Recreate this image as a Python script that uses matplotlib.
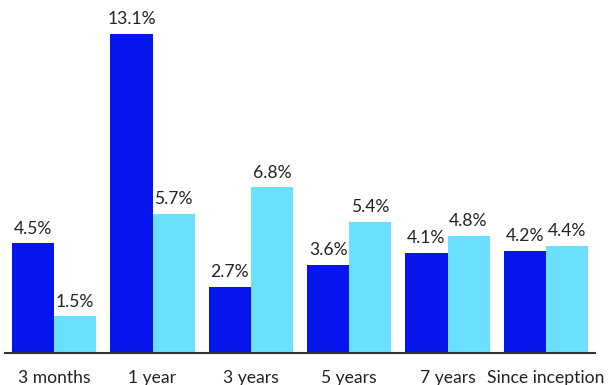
import numpy as np
import matplotlib
matplotlib.use("Agg")
import matplotlib.pyplot as plt

CATEGORIES = ["3 months", "1 year", "3 years", "5 years", "7 years", "Since inception"]
SERIES_A = [4.5, 13.1, 2.7, 3.6, 4.1, 4.2]
SERIES_B = [1.5, 5.7, 6.8, 5.4, 4.8, 4.4]

DARK = "#0515eb"
LIGHT = "#6ae0fe"
TEXT = "#222222"

plt.rcParams["font.family"] = ["Lato", "DejaVu Sans"]

fig = plt.figure(figsize=(6.08, 3.85), dpi=100, facecolor="white")
ax = fig.add_axes([5 / 608, 1 - 353 / 385, 590 / 608, 353 / 385])

x = np.arange(len(CATEGORIES))
w = 0.428
bars_a = ax.bar(x - w / 2, SERIES_A, w, color=DARK)
bars_b = ax.bar(x + w / 2, SERIES_B, w, color=LIGHT)

for bars, vals in ((bars_a, SERIES_A), (bars_b, SERIES_B)):
    for b, v in zip(bars, vals):
        ax.annotate(f"{v:.1f}%", (b.get_x() + b.get_width() / 2, v),
                    xytext=(0, 5), textcoords="offset points",
                    ha="center", va="bottom", fontsize=12.6, color=TEXT)

ax.set_xlim(-0.5, len(CATEGORIES) - 0.5)
ax.set_ylim(0, 14.5)
ax.set_xticks(x)
ax.set_xticklabels(CATEGORIES, fontsize=12.6, color=TEXT)
ax.tick_params(axis="x", length=0, pad=12)
ax.set_yticks([])
for s in ("top", "right", "left"):
    ax.spines[s].set_visible(False)
ax.spines["bottom"].set_color("#333333")
ax.spines["bottom"].set_linewidth(1.5)

fig.savefig("out.png", dpi=100, facecolor="white")
